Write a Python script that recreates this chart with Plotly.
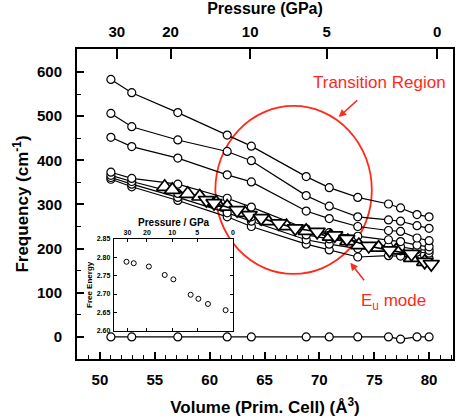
import plotly.graph_objects as go

# ---------------- data ----------------
volume = [51.0, 52.9, 57.1, 61.6, 63.8, 68.8, 70.9, 73.5, 76.3, 77.4, 78.9, 80.0]
mode_1 = [583, 553, 508, 457, 432, 363, 338, 316, 301, 292, 277, 272]
mode_2 = [506, 476, 446, 420, 399, 320, 296, 272, 265, 262, 252, 246]
mode_3 = [452, 431, 405, 367, 351, 285, 268, 250, 241, 239, 224, 218]
mode_4 = [373, 359, 346, 314, 294, 245, 236, 228, 220, 216, 208, 204]
mode_5 = [366, 352, 325, 297, 272, 231, 222, 212, 206, 204, 198, 196]
mode_6 = [361, 346, 316, 281, 262, 220, 210, 200, 197, 195, 192, 190]
mode_7 = [357, 340, 309, 272, 250, 210, 197, 181, 184, 183, 180, 178]
mode_0 = [0, 0, 0, 0, 0, 0, 0, 0, 0, -5, 0, 0]

up_volume = [55.9, 56.6, 58.0, 59.1, 60.6, 61.6, 63.2, 65.3, 67.0, 68.8, 71.0, 72.6, 73.6, 75.4, 77.0, 78.4, 79.6]
up_freq = [340, 333, 324, 318, 304, 295, 281, 262, 251, 240, 227, 217, 208, 202, 196, 179, 170]
down_volume = [59.7, 60.4, 62.5, 63.6, 64.7, 66.3, 67.8, 69.8, 71.4, 72.5, 74.5, 76.4, 78.4, 79.6, 80.2]
down_freq = [310, 303, 287, 276, 269, 257, 246, 238, 230, 222, 206, 196, 188, 170, 165]

pressure_ticks = ["30", "20", "10", "5", "0"]
pressure_at_volume = [51.54, 56.44, 63.69, 70.67, 80.73]

inset_volume = [51.2, 53.2, 57.4, 61.8, 64.2, 69.0, 71.15, 73.8, 78.7]
inset_energy = [2.788, 2.784, 2.775, 2.752, 2.740, 2.698, 2.687, 2.673, 2.656]
inset_pressure_at_volume = [51.45, 56.87, 63.89, 70.8, 80.74]

# ---------------- styling ----------------
FONT = "Liberation Sans, Arial, sans-serif"
XR = [47.91, 82.18]
YR = [-50, 652]
IXR = [47.67, 80.87]
IYR = [2.60, 2.85]

fig = go.Figure()

circle_marker = dict(symbol="circle", size=8, color="white", line=dict(color="black", width=1.2))
for series, xa in [(mode_0, "x"), (mode_7, "x"), (mode_6, "x"), (mode_5, "x"),
                   (mode_4, "x"), (mode_3, "x"), (mode_2, "x"), (mode_1, "x2")]:
    fig.add_trace(go.Scatter(x=volume, y=series, mode="lines+markers",
                             line=dict(color="black", width=1.2),
                             marker=circle_marker, showlegend=False,
                             xaxis=xa, yaxis="y", cliponaxis=False))

fig.add_trace(go.Scatter(x=up_volume, y=up_freq, mode="lines+markers",
                         line=dict(color="black", width=1.6),
                         marker=dict(symbol="triangle-up", size=14, color="white",
                                     line=dict(color="black", width=1.7)),
                         showlegend=False, xaxis="x", yaxis="y"))
fig.add_trace(go.Scatter(x=down_volume, y=down_freq, mode="lines+markers",
                         line=dict(color="black", width=1.6),
                         marker=dict(symbol="triangle-down", size=14, color="white",
                                     line=dict(color="black", width=1.7)),
                         showlegend=False, xaxis="x", yaxis="y"))

# inset background (white panel) and data
fig.add_trace(go.Scatter(x=[IXR[0], IXR[1], IXR[1], IXR[0], IXR[0]],
                         y=[IYR[0], IYR[0], IYR[1], IYR[1], IYR[0]],
                         mode="lines", fill="toself", fillcolor="white",
                         line=dict(width=0, color="white"), hoverinfo="skip",
                         showlegend=False, xaxis="x3", yaxis="y3"))
fig.add_trace(go.Scatter(x=inset_volume, y=inset_energy, mode="markers",
                         marker=dict(symbol="circle-open", size=5, color="black",
                                     line=dict(width=1)),
                         showlegend=False, xaxis="x3", yaxis="y3"))

tickfont = dict(family=FONT, size=15, color="black", weight="bold")
ifont = dict(family=FONT, size=7, color="black", weight="bold")

fig.update_layout(
    width=456, height=418,
    margin=dict(l=77, r=1, t=49, b=59),
    paper_bgcolor="white", plot_bgcolor="white",
    xaxis=dict(range=XR, domain=[0, 1], showgrid=False, zeroline=False,
               showline=True, linecolor="black", linewidth=2,
               ticks="inside", ticklen=7, tickwidth=1.5, tickcolor="black",
               tickvals=[50, 55, 60, 65, 70, 75, 80],
               minor=dict(ticks="inside", ticklen=4, tickwidth=1, tickcolor="black", dtick=1, tick0=50),
               tickfont=tickfont, ticklabelstandoff=6,
               title=dict(text="<b>Volume (Prim. Cell) (Å<sup>3</sup>)</b>",
                          font=dict(family=FONT, size=17, color="black"), standoff=14)),
    xaxis2=dict(range=XR, overlaying="x", side="top", anchor="y",
                showgrid=False, zeroline=False, showline=True, linecolor="black", linewidth=2,
                ticks="inside", ticklen=10, tickwidth=1.5, tickcolor="black",
                tickvals=pressure_at_volume, ticktext=pressure_ticks,
                tickfont=tickfont, ticklabelstandoff=4,
                title=dict(text="<b>Pressure (GPa)</b>",
                           font=dict(family=FONT, size=16, color="black"), standoff=4)),
    yaxis=dict(range=YR, domain=[0, 1], showgrid=False, zeroline=False,
               showline=True, linecolor="black", linewidth=2, mirror=True,
               ticks="inside", ticklen=7, tickwidth=1.5, tickcolor="black",
               tickvals=[0, 100, 200, 300, 400, 500, 600],
               minor=dict(ticks="inside", ticklen=4, tickwidth=1, tickcolor="black", dtick=50, tick0=0),
               tickfont=tickfont, ticklabelstandoff=10,
               title=dict(text="<b>Frequency (cm<sup>-1</sup>)</b>",
                          font=dict(family=FONT, size=17, color="black"), standoff=4)),
    xaxis3=dict(range=IXR, domain=[0.0979, 0.416], anchor="y3", side="top",
                showgrid=False, zeroline=False, showline=True, linecolor="black",
                linewidth=1.2, mirror="allticks",
                ticks="inside", ticklen=3, tickwidth=1, tickcolor="black",
                tickvals=inset_pressure_at_volume, ticktext=pressure_ticks,
                tickfont=ifont, ticklabelstandoff=0,
                title=dict(text="<b>Pressure / GPa</b>",
                           font=dict(family=FONT, size=10, color="black"), standoff=0)),
    yaxis3=dict(range=IYR, domain=[0.0913, 0.387], anchor="x3",
                showgrid=False, zeroline=False, showline=True, linecolor="black",
                linewidth=1.2, mirror="allticks",
                ticks="inside", ticklen=3, tickwidth=1, tickcolor="black",
                tickvals=[2.60, 2.65, 2.70, 2.75, 2.80, 2.85],
                ticktext=["2.60", "2.65", "2.70", "2.75", "2.80", "2.85"],
                tickfont=ifont, ticklabelstandoff=1,
                title=dict(text="<b>Free Energy</b>",
                           font=dict(family=FONT, size=8, color="black"), standoff=2)),
    shapes=[dict(type="circle", xref="x", yref="y", x0=60.52, x1=74.78, y0=142.6, y1=523,
                 line=dict(color="#ff2a1a", width=1.8), layer="below")],
    annotations=[
        dict(text="Transition Region", x=75.48, y=577, xref="x", yref="y",
             showarrow=False, font=dict(family=FONT, size=17, color="#ff2a1a")),
        dict(text="", x=71.76, y=498, xref="x", yref="y", ax=20, ay=-18,
             showarrow=True, arrowhead=2, arrowsize=1, arrowwidth=1.5, arrowcolor="#ff2a1a"),
        dict(text="E<sub>u</sub> mode", x=76.75, y=79, xref="x", yref="y",
             showarrow=False, font=dict(family=FONT, size=17, color="#ff2a1a")),
        dict(text="", x=72.82, y=168, xref="x", yref="y", ax=15, ay=19,
             showarrow=True, arrowhead=2, arrowsize=1, arrowwidth=1.5, arrowcolor="#ff2a1a"),
    ],
)

fig.write_html("out.html", config={"displayModeBar": False},
               post_script="document.body.style.margin='0';")
